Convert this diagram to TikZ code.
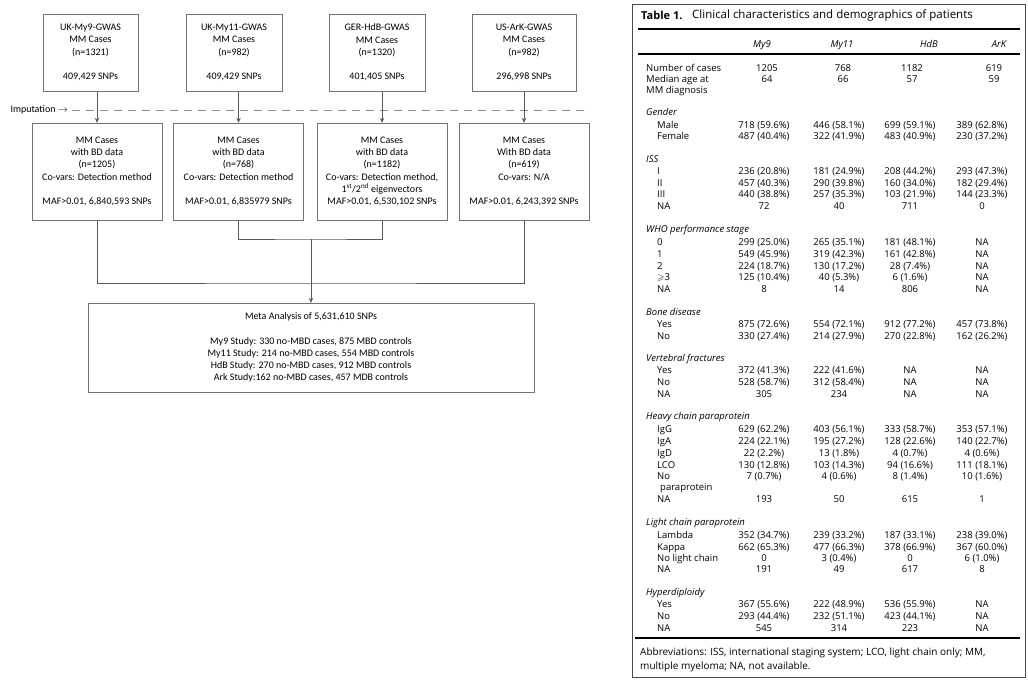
\documentclass[tikz,border=0pt]{standalone}
\usepackage{fontspec}
\usepackage{amssymb}
\usetikzlibrary{arrows.meta}
\setmainfont{Carlito}
\newfontfamily\tablefont{Open Sans}
\newcommand\flowtext{\fontsize{10}{12.3}\selectfont}
\newcommand\tabtext{\tablefont\fontsize{9.5}{12}\selectfont}
\colorlet{box edge}{black!55}
\colorlet{link line}{black!65}
\tikzset{study/.style={draw=box edge, align=center, font=\flowtext, inner sep=1pt},
    gwas/.style={study, minimum height=77pt},
    bdset/.style={study, minimum width=130pt, minimum height=97pt},
    link/.style={draw=link line, thick},
    feed/.style={link, -{Stealth[length=5pt, width=4.5pt]}},
    imputation/.style={draw=black!45, thick, dash pattern=on 8pt off 6pt},
    cell/.style={font=\tabtext, inner sep=0pt, text height=7pt, text depth=2pt},
    rowlabel/.style={cell, anchor=west},
    rule/.style={line width=1.6pt}}

\begin{document}
\begin{tikzpicture}[x=1pt, y=-1pt]
    \useasboundingbox (0,0) rectangle (1028,680);
    % studies before imputation
    \node[gwas, minimum width=95pt]  (my9)  at (90.5,52.5) {UK-My9-GWAS\\MM Cases\\(n=1321)\\[12.3pt]409,429 SNPs};
    \node[gwas, minimum width=96pt]  (my11) at (234,52.5)  {UK-My11-GWAS\\MM Cases\\(n=982)\\[12.3pt]409,429 SNPs};
    \node[gwas, minimum width=96pt]  (hdb)  at (377,52.5)  {GER-HdB-GWAS\\MM Cases\\(n=1320)\\[12.3pt]401,405 SNPs};
    \node[gwas, minimum width=104pt] (ark)  at (524,52.5)  {US-ArK-GWAS\\MM Cases\\(n=982)\\[12.3pt]296,998 SNPs};
    % imputation line
    \node[font=\flowtext, anchor=east, inner sep=0pt] (imp) at (68,110) {Imputation $\rightarrow$};
    \coordinate (impend) at (590,110);
    \draw[imputation] ([xshift=4pt]imp.east) -- (impend);
    % studies with bone disease data
    \node[bdset] (my9bd)  at (97,171.5)  {MM Cases\\with BD data\\(n=1205)\\Co-vars: Detection method\\[12.3pt]MAF>0.01, 6,840,593 SNPs};
    \node[bdset] (my11bd) at (238.5,171.5) {MM Cases\\with BD data\\(n=768)\\Co-vars: Detection method\\[12.3pt]MAF>0.01, 6,835979 SNPs};
    \node[bdset] (hdbbd)  at (382,171.5)  {MM Cases\\with BD data\\(n=1182)\\Co-vars: Detection method,\\1\textsuperscript{st}/2\textsuperscript{nd} eigenvectors\\MAF>0.01, 6,530,102 SNPs};
    \node[bdset] (arkbd)  at (524,171.5)  {MM Cases\\With BD data\\(n=619)\\Co-vars: N/A\\[12.3pt]MAF>0.01, 6,243,392 SNPs};
    \draw[feed] (my9bd.north |- my9.south)   -- (my9bd.north);
    \draw[feed] (my11bd.north |- my11.south) -- (my11bd.north);
    \draw[feed] (hdbbd.north |- hdb.south)   -- (hdbbd.north);
    \draw[feed] (arkbd.north |- ark.south)   -- (arkbd.north);
    % meta analysis
    \node[study, minimum width=446pt, minimum height=89pt] (meta) at (311,347.5)
        {Meta Analysis of 5,631,610 SNPs\\[12.3pt]My9 Study: 330 no-MBD cases, 875 MBD controls\\My11 Study: 214 no-MBD cases, 554 MBD controls\\HdB Study: 270 no-MBD cases, 912 MBD controls\\Ark Study:162 no-MBD cases, 457 MDB controls};
    \coordinate (outer) at (311,283);
    \coordinate (inner) at (311,239);
    \draw[link] (my9bd.south) |- (outer) -| (arkbd.south);
    \draw[link] (my11bd.south) |- (inner) -| (hdbbd.south);
    \draw[feed] (inner) -- (meta.north);
    % table of patients
    \draw[draw=black!70] (632,4) rectangle (1025,677);
    \node[anchor=west, inner sep=0pt, font=\tablefont\fontsize{11}{12}\selectfont\bfseries] (tabno) at (641,15) {Table 1.};
    \node[anchor=west, inner sep=0pt, font=\tablefont\fontsize{11.5}{12}\selectfont] (tabtitle) at (692,15) {Clinical characteristics and demographics of patients};
    \draw[rule] (638,29) -- (1020,29);
    \draw[line width=1.3pt] (638,54) -- (1020,54);
    \draw[rule] (635,638) -- (1020,638);
    \node[cell, font=\tabtext\itshape] (hmy9)  at (762,45) {My9};
    \node[cell, font=\tabtext\itshape] (hmy11) at (842,45) {My11};
    \node[cell, font=\tabtext\itshape] (hhdb)  at (929,45) {HdB};
    \node[cell, font=\tabtext\itshape] (hark)  at (999,45) {ArK};
    \foreach \y/\lab/\a/\b/\c/\d [count=\n] in {69/Number of cases/1205/768/1182/619, 80/Median age at/64/66/57/59}{
        \node[rowlabel] (top\n) at (646,\y) {\lab};
        \node[cell] (top\n-a) at (767,\y) {\a};
        \node[cell] (top\n-b) at (843,\y) {\b};
        \node[cell] (top\n-c) at (912,\y) {\c};
        \node[cell] (top\n-d) at (994,\y) {\d};
    }
    \node[rowlabel] (mmdiag) at (646,91) {MM diagnosis};
    \foreach \y/\lab [count=\n] in {113/Gender, 160/ISS, 230/WHO performance stage, 313/Bone disease,
        359/Vertebral fractures, 417/Heavy chain paraprotein, 523/Light chain paraprotein, 593/Hyperdiploidy}
        \node[rowlabel, font=\tabtext\itshape] (cat\n) at (646,\y) {\lab};
    \foreach \y/\lab/\a/\b/\c/\d [count=\n] in {
        126/Male/718 (59.6\%)/446 (58.1\%)/699 (59.1\%)/389 (62.8\%),
        137/Female/487 (40.4\%)/322 (41.9\%)/483 (40.9\%)/230 (37.2\%),
        172/I/236 (20.8\%)/181 (24.9\%)/208 (44.2\%)/293 (47.3\%),
        184/II/457 (40.3\%)/290 (39.8\%)/160 (34.0\%)/182 (29.4\%),
        195/III/440 (38.8\%)/257 (35.3\%)/103 (21.9\%)/144 (23.3\%),
        207/NA/72/40/711/0,
        243/0/299 (25.0\%)/265 (35.1\%)/181 (48.1\%)/NA,
        255/1/549 (45.9\%)/319 (42.3\%)/161 (42.8\%)/NA,
        267/2/224 (18.7\%)/130 (17.2\%)/28 (7.4\%)/NA,
        278/$\geqslant$3/125 (10.4\%)/40 (5.3\%)/6 (1.6\%)/NA,
        290/NA/8/14/806/NA,
        325/Yes/875 (72.6\%)/554 (72.1\%)/912 (77.2\%)/457 (73.8\%),
        337/No/330 (27.4\%)/214 (27.9\%)/270 (22.8\%)/162 (26.2\%),
        371/Yes/372 (41.3\%)/222 (41.6\%)/NA/NA,
        383/No/528 (58.7\%)/312 (58.4\%)/NA/NA,
        395/NA/305/234/NA/NA,
        430/IgG/629 (62.2\%)/403 (56.1\%)/333 (58.7\%)/353 (57.1\%),
        442/IgA/224 (22.1\%)/195 (27.2\%)/128 (22.6\%)/140 (22.7\%),
        454/IgD/22 (2.2\%)/13 (1.8\%)/4 (0.7\%)/4 (0.6\%),
        466/LCO/130 (12.8\%)/103 (14.3\%)/94 (16.6\%)/111 (18.1\%),
        477/No/7 (0.7\%)/4 (0.6\%)/8 (1.4\%)/10 (1.6\%),
        500/NA/193/50/615/1,
        536/Lambda/352 (34.7\%)/239 (33.2\%)/187 (33.1\%)/238 (39.0\%),
        548/Kappa/662 (65.3\%)/477 (66.3\%)/378 (66.9\%)/367 (60.0\%),
        559/No light chain/0/3 (0.4\%)/0/6 (1.0\%),
        570/NA/191/49/617/8,
        605/Yes/367 (55.6\%)/222 (48.9\%)/536 (55.9\%)/NA,
        617/No/293 (44.4\%)/232 (51.1\%)/423 (44.1\%)/NA,
        629/NA/545/314/223/NA}{
        \node[rowlabel] (row\n) at (657,\y) {\lab};
        \node[cell] (row\n-a) at (764,\y) {\a};
        \node[cell] (row\n-b) at (839,\y) {\b};
        \node[cell] (row\n-c) at (910,\y) {\c};
        \node[cell] (row\n-d) at (982,\y) {\d};
    }
    \node[rowlabel] (parapr) at (660,488) {paraprotein};
    \node[anchor=west, align=left, inner sep=0pt, font=\tablefont\fontsize{10}{14}\selectfont] (abbrev) at (640,660)
        {Abbreviations: ISS, international staging system; LCO, light chain only; MM,\\multiple myeloma; NA, not available.};
\end{tikzpicture}
\end{document}
